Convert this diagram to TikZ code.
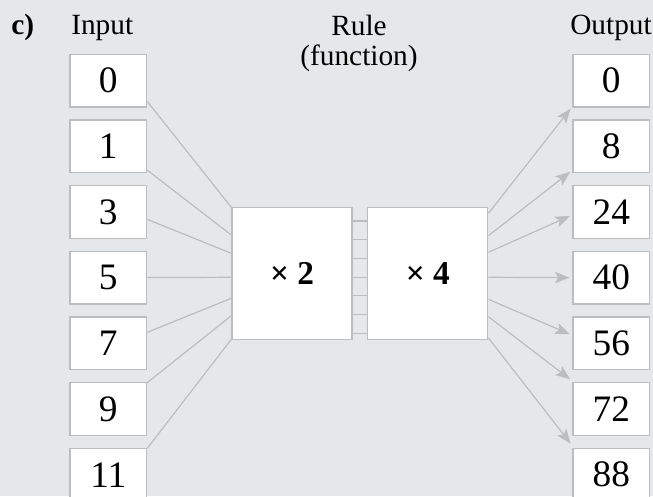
\documentclass[tikz,border=0pt]{standalone}
\usepackage{fontspec}
\setmainfont{Liberation Serif}
\usetikzlibrary{calc,arrows.meta}
\definecolor{panel}{HTML}{E6E7E8}
\definecolor{rim}{HTML}{BCBDBF}
\tikzset{
  numbox/.style={draw=rim, line width=1pt, fill=white, minimum width=57.5pt,
    minimum height=39.5pt, inner sep=0pt, font=\fontsize{28}{30}\selectfont},
  rulebox/.style={draw=rim, line width=1pt, fill=white, minimum width=90pt,
    minimum height=99pt, inner sep=0pt, font=\fontsize{25}{28}\selectfont\bfseries},
  link/.style={draw=rim, line width=0.9pt},
  feed/.style={link, -{Stealth[length=11pt, width=8.5pt, inset=2.5pt]}, shorten >=2pt},
  headtext/.style={font=\fontsize{22}{26}\selectfont, inner sep=0pt}
}

\begin{document}
\begin{tikzpicture}[x=0.75pt, y=-0.75pt]
  \useasboundingbox[fill=panel] (0,0) rectangle (653,496);
  % headings
  \node[headtext, font=\fontsize{22}{26}\selectfont\bfseries, anchor=base west] (tag) at (11,34) {c)};
  \node[headtext, anchor=base west] (inhead) at (71,34) {Input};
  \node[headtext, anchor=base] (rulehead) at (359,36) {Rule};
  \node[headtext, anchor=base] (funchead) at (359,65) {(function)};
  \node[headtext, anchor=base east] (outhead) at (652,34) {Output};
  % input and output columns
  \foreach \i/\a/\b in {1/0/0, 2/1/8, 3/3/24, 4/5/40, 5/7/56, 6/9/72, 7/11/88} {
    \node[numbox] (in\i) at (108.3, {80.5+65.7*(\i-1)}) {\a};
    \node[numbox] (out\i) at (611.3, {80.5+65.7*(\i-1)}) {\b};
  }
  % the two rules
  \node[rulebox] (dbl) at (292,273.3) {× 2};
  \node[rulebox] (quad) at (427.8,273.3) {× 4};
  \foreach \k in {0,...,6}
    \draw[link] ($(dbl.north east)+(0,{14.4+18.7*\k})$) -- ($(quad.north west)+(0,{14.4+18.7*\k})$);
  % inputs into the rule
  \foreach \i/\a/\b in {1/21/-66, 2/24/-38.3, 3/7.5/-20, 4/0/4, 5/-11/25, 6/-26.4/42.4, 7/-26.4/66}
    \draw[link] ($(in\i.east)+(0,\a)$) -- ($(dbl.west)+(0,\b)$);
  % rule out to the outputs
  \foreach \i/\a/\b in {1/-60/26, 2/-37.6/24, 3/-21/3, 4/4/0, 5/26/-8, 6/43.4/-28, 7/64.7/-29}
    \draw[feed] ($(quad.east)+(0,\a)$) -- ($(out\i.west)+(0,\b)$);
\end{tikzpicture}
\end{document}
